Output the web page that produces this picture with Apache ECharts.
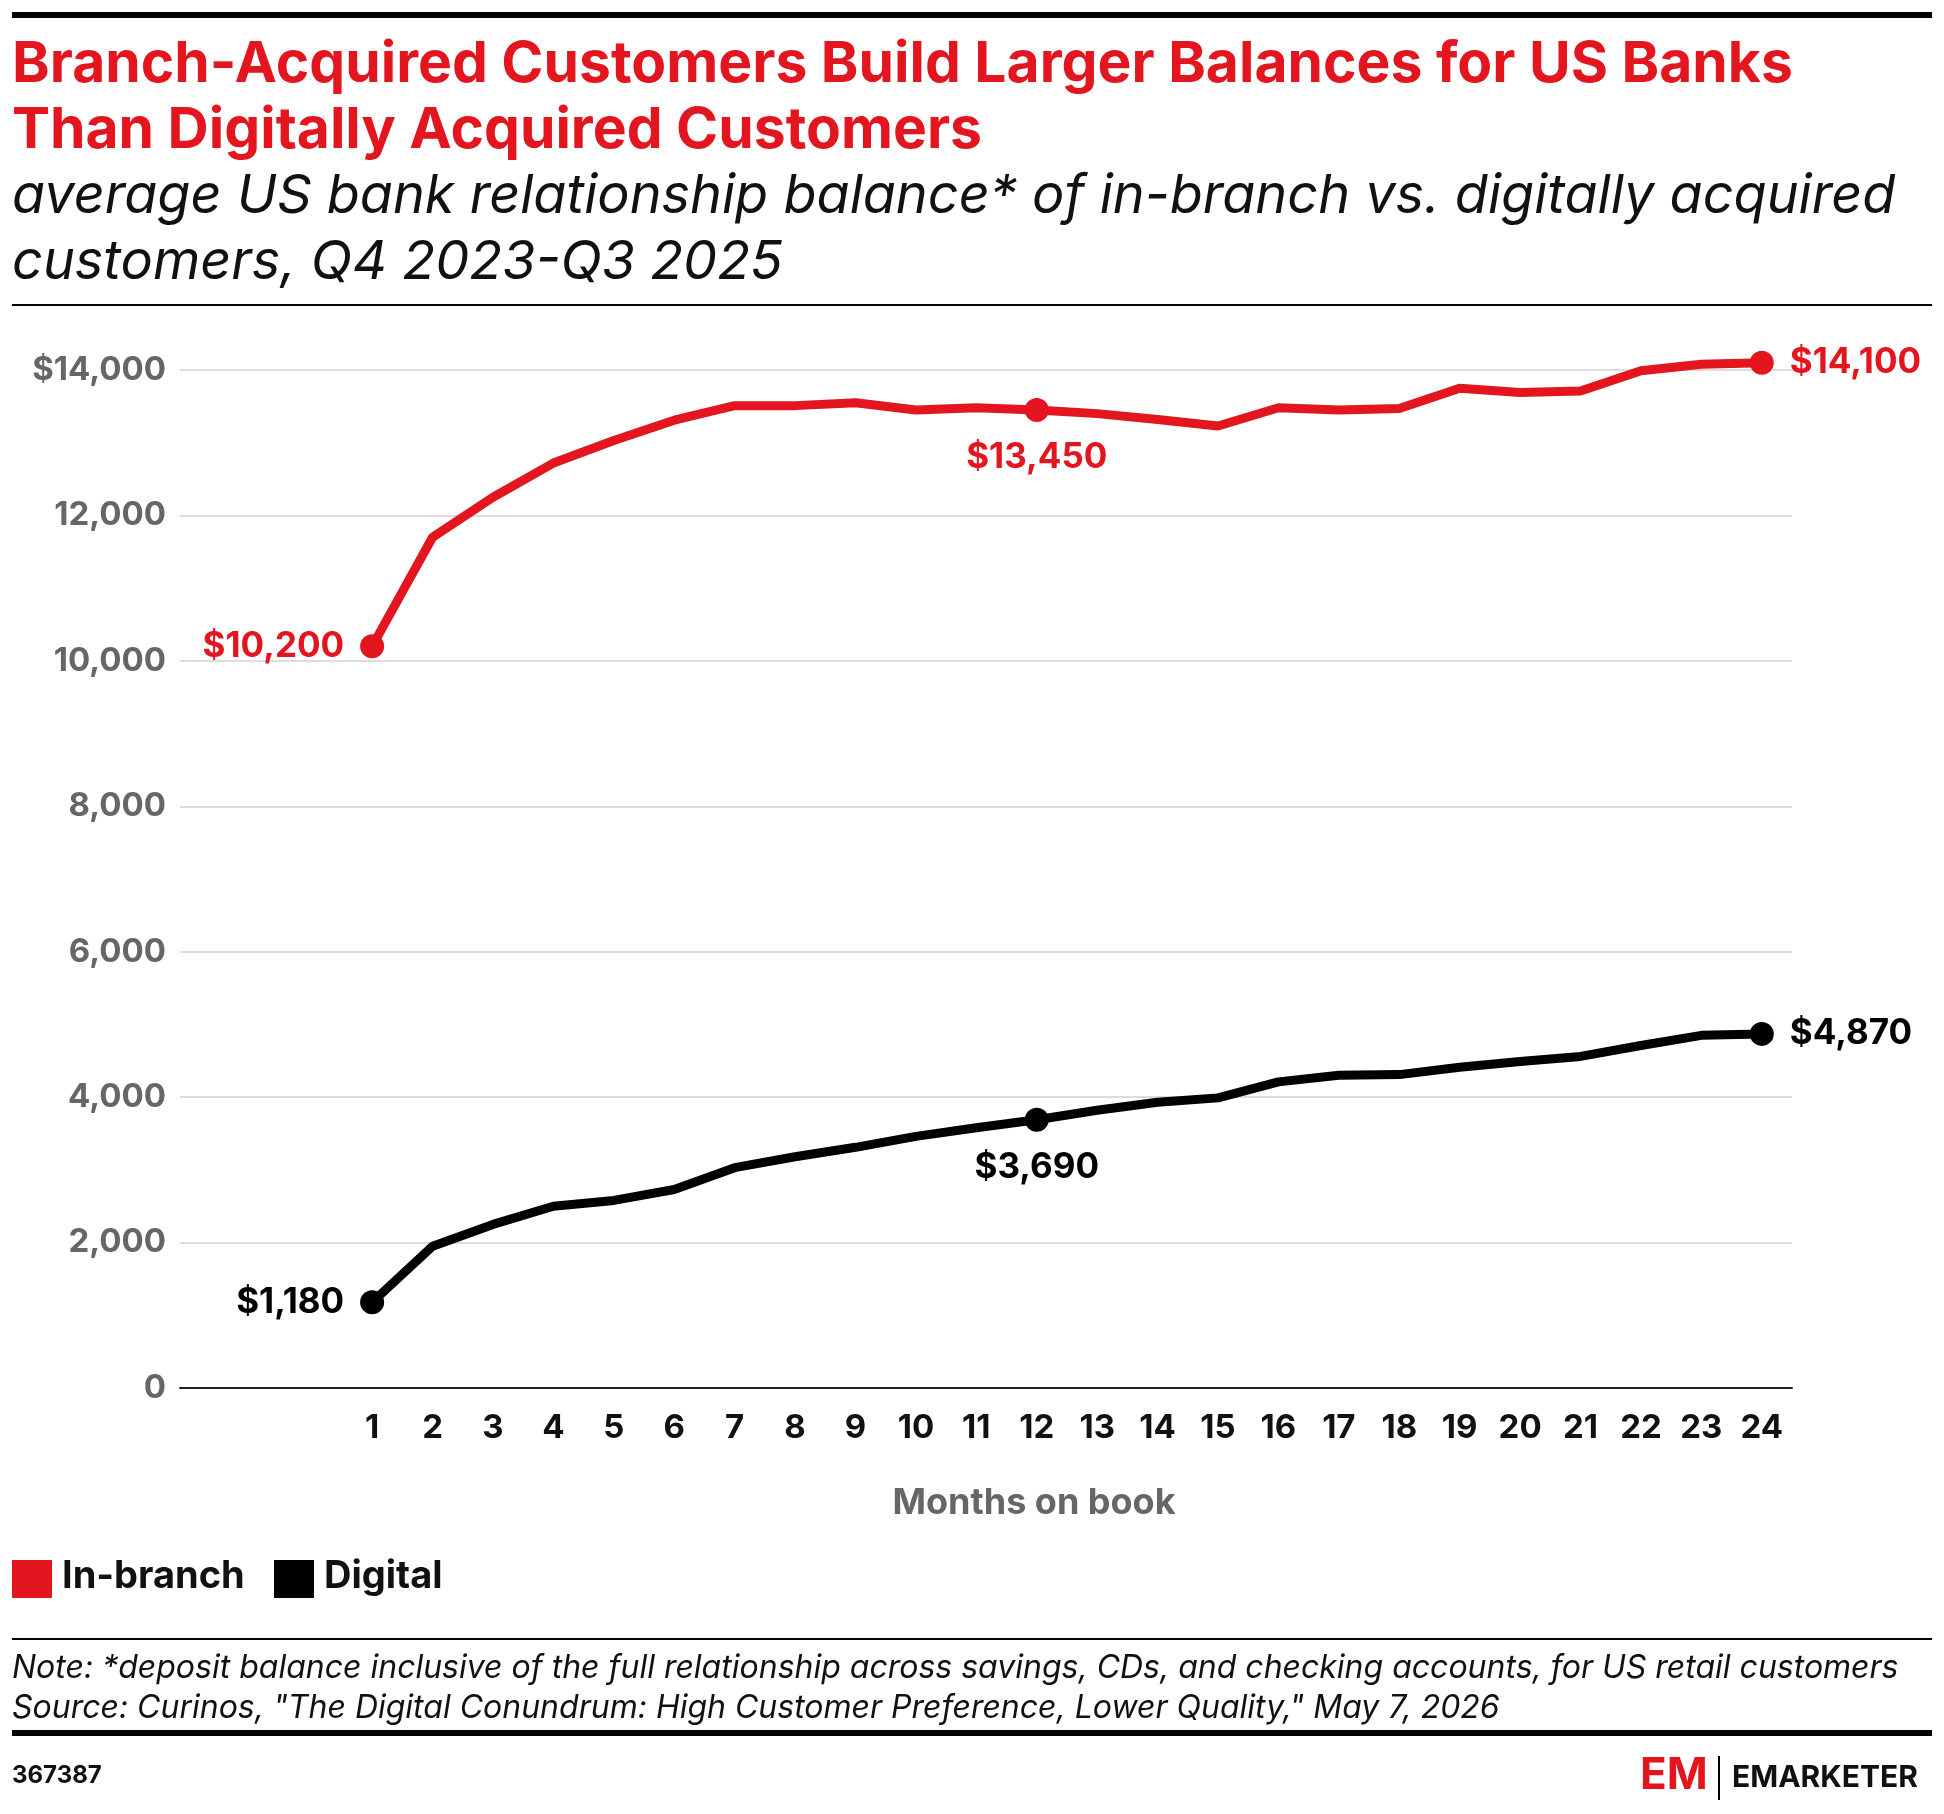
<!DOCTYPE html>
<html><head><meta charset="utf-8">
<script src="https://cdn.jsdelivr.net/npm/echarts@6/dist/echarts.min.js"></script>
<style>html,body{margin:0;background:#fff}#chart{width:1944px;height:1814px}</style>
</head><body><div id="chart"></div>
<script>
const months = [1,2,3,4,5,6,7,8,9,10,11,12,13,14,15,16,17,18,19,20,21,22,23,24];
const inBranch = [10200,11700,12250,12720,13030,13310,13510,13510,13550,13450,13480,13450,13400,13320,13230,13480,13450,13470,13750,13690,13710,13990,14080,14100];
const digital = [1180,1950,2250,2500,2580,2730,3030,3180,3310,3460,3580,3690,3820,3930,3990,4210,4300,4310,4410,4490,4560,4710,4850,4870];
const labelIdx = [0, 11, 23];
const RED = '#e3151e';
const FONT = 'Inter, "Noto Sans", sans-serif';

function seriesData(vals, color) {
  return vals.map((v, i) => {
    const pt = { value: [months[i], v] };
    if (labelIdx.includes(i)) {
      const pos = i === 0 ? 'left' : (i === 23 ? 'right' : 'bottom');
      pt.symbolSize = 24;
      pt.label = {
        show: true, position: pos, distance: i === 11 ? 18 : 16,
        formatter: '$' + v.toLocaleString('en-US'),
        color: color, fontSize: 35, fontWeight: 'bold', fontFamily: FONT
      };
    }
    return pt;
  });
}

const chart = echarts.init(document.getElementById('chart'));
chart.setOption({
  animation: false,
  grid: { left: 180, right: 152, top: 370, bottom: 426 },
  xAxis: {
    type: 'value', min: -2.18, max: 24.5,
    axisLine: { show: true, lineStyle: { color: '#222', width: 2 } },
    axisTick: { show: false },
    splitLine: { show: false },
    axisLabel: { customValues: months, color: '#111', fontSize: 33, fontWeight: 'bold', fontFamily: FONT, margin: 24 }
  },
  yAxis: {
    type: 'value', min: 0, max: 14000, interval: 2000,
    axisLine: { show: false }, axisTick: { show: false },
    splitLine: { lineStyle: { color: '#ddd', width: 2 } },
    axisLabel: {
      color: '#666', fontSize: 33, fontWeight: 'bold', fontFamily: FONT, margin: 14,
      formatter: v => v === 14000 ? '$14,000' : v.toLocaleString('en-US')
    }
  },
  series: [
    { type: 'line', data: seriesData(inBranch, RED), color: RED, clip: false,
      lineStyle: { width: 9, color: RED }, symbol: 'circle', symbolSize: 0, itemStyle: { color: RED } },
    { type: 'line', data: seriesData(digital, '#000'), color: '#000', clip: false,
      lineStyle: { width: 9, color: '#000' }, symbol: 'circle', symbolSize: 0, itemStyle: { color: '#000' } }
  ],
  graphic: [
    { type: 'rect', shape: { x: 12, y: 12, width: 1920, height: 6 }, style: { fill: '#000' } },
    { type: 'text', left: 12, top: 32, style: { text: 'Branch-Acquired Customers Build Larger Balances for US Banks\nThan Digitally Acquired Customers', fill: RED, font: 'bold 57px ' + FONT, lineHeight: 66 } },
    { type: 'text', left: 12, top: 164, style: { text: 'average US bank relationship balance* of in-branch vs. digitally acquired\ncustomers, Q4 2023-Q3 2025', fill: '#111', font: 'italic 54px ' + FONT, lineHeight: 66 } },
    { type: 'rect', shape: { x: 12, y: 304, width: 1920, height: 2 }, style: { fill: '#000' } },
    { type: 'text', x: 1034, y: 1503, style: { text: 'Months on book', fill: '#666', font: 'bold 36px ' + FONT, align: 'center', verticalAlign: 'middle' } },
    { type: 'rect', shape: { x: 12, y: 1560, width: 40, height: 38 }, style: { fill: RED } },
    { type: 'text', left: 62, top: 1558, style: { text: 'In-branch', fill: '#111', font: 'bold 38px ' + FONT } },
    { type: 'rect', shape: { x: 274, y: 1560, width: 40, height: 38 }, style: { fill: '#000' } },
    { type: 'text', left: 324, top: 1558, style: { text: 'Digital', fill: '#111', font: 'bold 38px ' + FONT } },
    { type: 'rect', shape: { x: 12, y: 1638, width: 1920, height: 2 }, style: { fill: '#000' } },
    { type: 'text', left: 12, top: 1648, style: { text: 'Note: *deposit balance inclusive of the full relationship across savings, CDs, and checking accounts, for US retail customers\nSource: Curinos, "The Digital Conundrum: High Customer Preference, Lower Quality," May 7, 2026', fill: '#111', font: 'italic 32px ' + FONT, lineHeight: 40 } },
    { type: 'rect', shape: { x: 12, y: 1730, width: 1920, height: 6 }, style: { fill: '#000' } },
    { type: 'text', left: 12, top: 1764, style: { text: '367387', fill: '#111', font: 'bold 24px ' + FONT } },
    { type: 'text', left: 1640, top: 1754, style: { text: 'EM', fill: RED, font: 'bold 44px ' + FONT } },
    { type: 'rect', shape: { x: 1718, y: 1756, width: 2, height: 44 }, style: { fill: '#000' } },
    { type: 'text', left: 1732, top: 1763, style: { text: 'EMARKETER', fill: '#111', font: 'bold 30px ' + FONT } }
  ]
});
</script></body></html>
